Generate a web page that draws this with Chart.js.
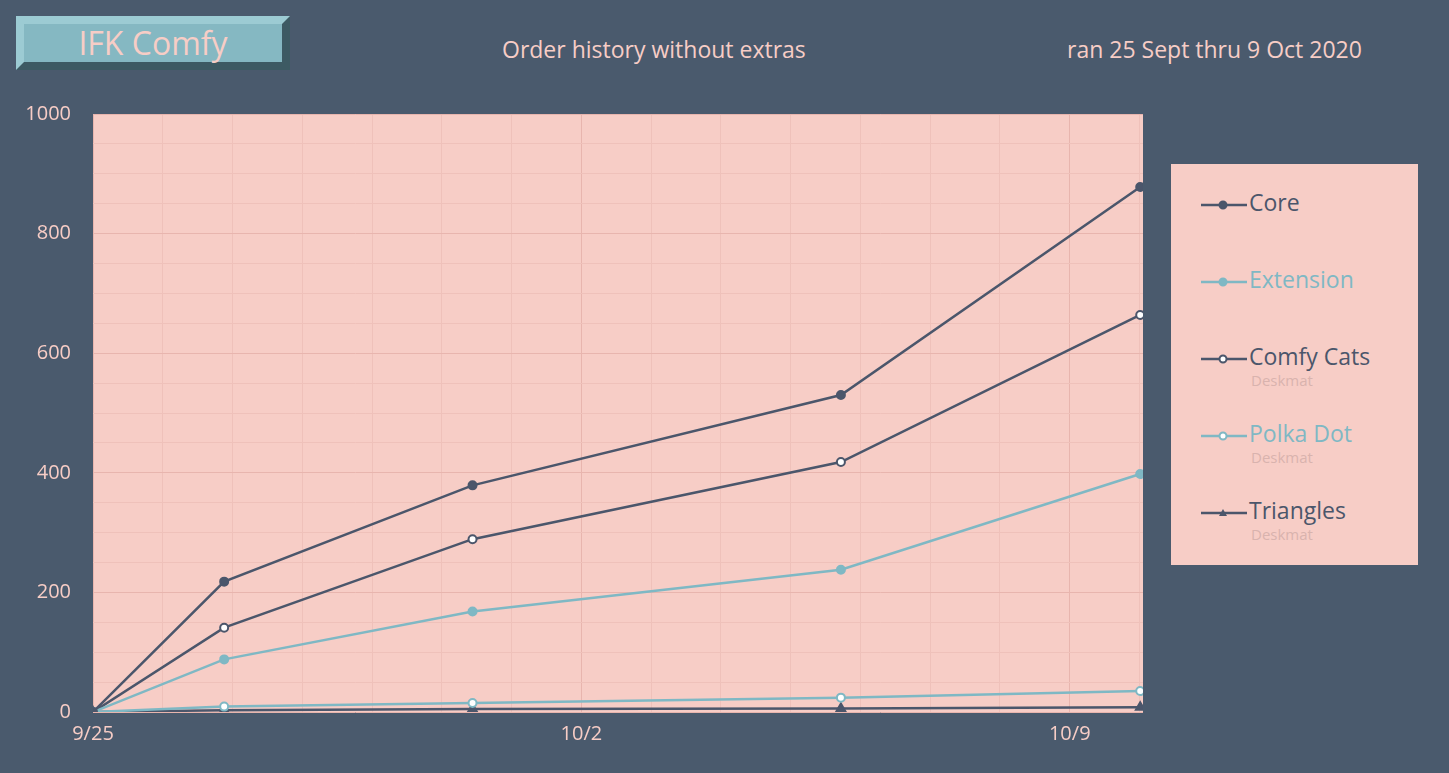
<!DOCTYPE html>
<html><head><meta charset="utf-8">
<script src="https://cdn.jsdelivr.net/npm/chart.js@4"></script>
<style>
body{margin:0;background:#4a5a6d;font-family:"Open Sans",sans-serif;width:1449px;height:773px;overflow:hidden;position:relative}
#badge{position:absolute;left:16px;top:16px;width:258px;height:46px;background:#85b8c2;border:8px solid;border-color:#9ccbd3 #3d5a63 #3d5a63 #9ccbd3;box-sizing:content-box;color:#f7cdc6;font-size:32px;line-height:46px;text-align:center;width:258px;height:38px;line-height:38px}
.t{position:absolute;color:#f7cdc6;font-size:23px}
#legend{position:absolute;left:1171px;top:164px;width:247px;height:401px;background:#f7cdc6}
.li{position:absolute;left:30px;font-size:23px}
.li svg{vertical-align:middle;margin-right:2px}
.sub{position:absolute;left:80px;font-size:15px;color:#d9b3ae}
#wrap{position:absolute;left:0;top:80px;width:1160px;height:693px}
</style></head><body>
<div id="badge">IFK Comfy</div>
<div class="t" style="left:502px;top:33px">Order history without extras</div>
<div class="t" style="left:1067px;top:33px">ran 25 Sept thru 9 Oct 2020</div>
<div id="legend"></div>
<div id="wrap"><canvas id="c"></canvas></div>
<script>
const days = [0, 1.88, 5.44, 10.72, 15.01];
const core = [0, 218, 379, 530, 878];
const extension = [0, 88, 168, 238, 398];
const comfyCats = [0, 141, 289, 418, 664];
const polkaDot = [0, 9, 15, 24, 35];
const triangles = [0, 3, 5, 6, 8];
const xLabels = {0: '9/25', 7: '10/2', 14: '10/9'};

const dark = '#4b566b', teal = '#7fb8c4', pink = '#f7cdc6';
const pts = arr => arr.map((v, i) => ({x: days[i], y: v}));
const series = [
  {label: 'Core', data: core, color: dark, style: 'circle', fill: dark},
  {label: 'Extension', data: extension, color: teal, style: 'circle', fill: teal},
  {label: 'Comfy Cats', data: comfyCats, color: dark, style: 'circle', fill: '#fff', sub: 'Deskmat'},
  {label: 'Polka Dot', data: polkaDot, color: teal, style: 'circle', fill: '#fff', sub: 'Deskmat'},
  {label: 'Triangles', data: triangles, color: dark, style: 'triangle', fill: dark, sub: 'Deskmat'}
];

const legend = document.getElementById('legend');
series.forEach((s, i) => {
  const top = 22 + i * 77;
  const mark = s.style === 'triangle'
    ? `<polygon points="22,4 18,11 26,11" fill="${s.fill}"/>`
    : `<circle cx="22" cy="8" r="3.5" fill="${s.fill}" stroke="${s.color}" stroke-width="2"/>`;
  legend.innerHTML += `<div class="li" style="top:${top}px;color:${s.color}"><svg width="46" height="16"><line x1="0" y1="8" x2="46" y2="8" stroke="${s.color}" stroke-width="2.5"/>${mark}</svg>${s.label}</div>`;
  if (s.sub) legend.innerHTML += `<div class="sub" style="top:${top + 30}px">${s.sub}</div>`;
});

const bg = {
  id: 'bg',
  beforeDraw(ch) {
    const a = ch.chartArea, ctx = ch.ctx;
    ctx.fillStyle = pink;
    ctx.fillRect(a.left, a.top, a.right - a.left, a.bottom - a.top);
  }
};

new Chart(document.getElementById('c'), {
  type: 'line',
  data: {
    datasets: series.map(s => ({
      label: s.label, data: pts(s.data), borderColor: s.color, borderWidth: 2.5,
      pointStyle: s.style, pointRadius: s.style === 'triangle' ? 5 : 4,
      pointBackgroundColor: s.fill, pointBorderColor: s.color, pointBorderWidth: 2, tension: 0
    }))
  },
  options: {
    responsive: true, maintainAspectRatio: false, animation: false,
    layout: {padding: {top: 11, right: 17}},
    plugins: {legend: {display: false}, tooltip: {enabled: false}},
    scales: {
      x: {
        type: 'linear', min: 0, max: 15.05,
        afterFit: s => { s.height = 61; },
        afterBuildTicks: s => { s.ticks = []; for (let d = 0; d <= 15; d++) s.ticks.push({value: d}); },
        grid: {color: c => c.tick && c.tick.value % 7 === 0 ? '#e8b5ae' : '#efc1ba', drawTicks: false},
        border: {display: false},
        ticks: {color: pink, font: {size: 20, family: 'Open Sans'}, padding: 10, autoSkip: false, maxRotation: 0,
          callback: v => xLabels[v] || ''}
      },
      y: {
        min: 0, max: 1000,
        afterFit: s => { s.width = 93; },
        afterBuildTicks: s => { s.ticks = []; for (let v = 0; v <= 1000; v += 50) s.ticks.push({value: v}); },
        grid: {color: c => c.tick && c.tick.value % 200 === 0 ? '#e8b5ae' : '#efc1ba', drawTicks: false},
        border: {display: false},
        ticks: {color: pink, font: {size: 20, family: 'Open Sans'}, padding: 22, autoSkip: false,
          callback: v => v % 200 === 0 ? v : ''}
      }
    }
  },
  plugins: [bg]
});
</script>
</body></html>
